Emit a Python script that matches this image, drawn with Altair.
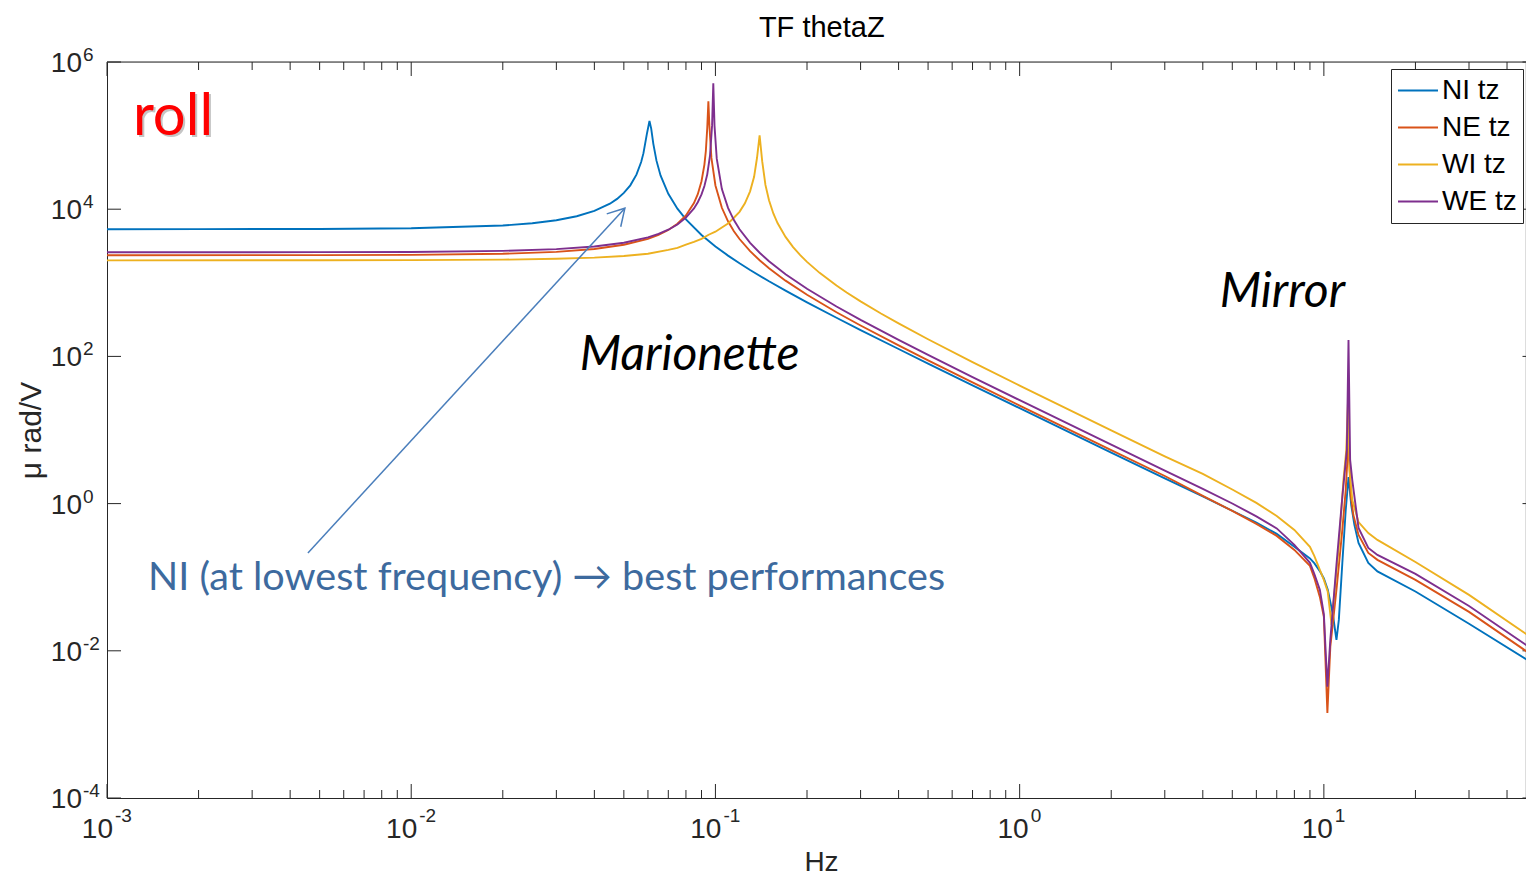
import altair as alt
import pandas as pd

# ---- transfer-function magnitudes (Hz, micro-rad/V) -------------------------
series_names = ["NI tz", "NE tz", "WI tz", "WE tz"]
series_colors = ["#0072BD", "#D95319", "#EDB120", "#7E2F8E"]

ni_f = [0.001, 0.002, 0.005, 0.01, 0.02, 0.025, 0.03, 0.035, 0.04, 0.045, 0.0475, 0.05,
        0.0525, 0.055, 0.057, 0.058, 0.0595, 0.0607, 0.0615, 0.0625, 0.064, 0.066, 0.07,
        0.075, 0.08, 0.09, 0.1, 0.11, 0.12, 0.13, 0.15, 0.17, 0.2, 0.25, 0.3, 0.4, 0.5,
        0.7, 1, 2, 3, 4, 5, 6, 7, 8, 9, 9.3, 9.7, 10.0, 10.3, 10.7, 11.0, 11.2, 11.5,
        11.8, 12.05, 12.3, 12.6, 13, 14, 15, 20, 30, 46.6, 50]
ni_v = [5350, 5356, 5387, 5499, 6002, 6443, 7080, 8015, 9457, 11880, 13800, 16640,
        21100, 29480, 43750, 57780, 104900, 158000, 124400, 77200, 45690, 28790, 16210,
        10160, 7259, 4466, 3121, 2342, 1840, 1491, 1048, 782, 543, 335, 228, 126, 80.0,
        40.5, 19.8, 4.93, 2.2, 1.25, 0.80, 0.55, 0.388, 0.26, 0.18, 0.155, 0.121,
        0.096, 0.0676, 0.0316, 0.0141, 0.0263, 0.156, 0.818, 2.30, 0.958, 0.513, 0.292,
        0.156, 0.12, 0.0639, 0.0233, 0.00755, 0.00625]

ne_f = [0.001, 0.005, 0.01, 0.02, 0.03, 0.04, 0.05, 0.06, 0.065, 0.07, 0.075, 0.08,
        0.085, 0.0875, 0.09, 0.092, 0.093, 0.094, 0.0948, 0.0955, 0.097, 0.1, 0.105,
        0.11, 0.115, 0.12, 0.13, 0.14, 0.15, 0.17, 0.2, 0.25, 0.3, 0.4, 0.5, 0.7, 1, 2,
        3, 4, 5, 6, 7, 8, 9, 9.3, 9.7, 10.0, 10.27, 10.5, 11.0, 11.5, 11.8, 12.05,
        12.25, 12.5, 13, 14, 15, 20, 30, 46.6, 50]
ne_v = [2370, 2377, 2397, 2480, 2634, 2883, 3284, 3954, 4473, 5211, 6335, 8235, 12090,
        16000, 24010, 40380, 61700, 127300, 293000, 140200, 49790, 21010, 10450, 6844,
        5025, 3935, 2692, 2007, 1576, 1070, 687, 398, 263, 141, 88.4, 44.3, 21.5, 5.34,
        2.37, 1.27, 0.796, 0.531, 0.364, 0.235, 0.1425, 0.098, 0.054, 0.029, 0.00143,
        0.0113, 0.0676, 0.439, 1.53, 7.33, 1.31, 0.70, 0.375, 0.214, 0.172, 0.092,
        0.0338, 0.00968, 0.00803]

wi_f = [0.001, 0.005, 0.01, 0.02, 0.03, 0.04, 0.05, 0.06, 0.07, 0.075, 0.08, 0.085,
        0.09, 0.095, 0.1, 0.105, 0.11, 0.115, 0.12, 0.125, 0.13, 0.134, 0.137, 0.1397,
        0.1425, 0.146, 0.15, 0.155, 0.16, 0.17, 0.18, 0.19, 0.2, 0.22, 0.25, 0.27, 0.3,
        0.35, 0.4, 0.5, 0.7, 1, 2, 3, 4, 5, 6, 7, 8, 9, 9.3, 9.7, 10.0, 10.3, 10.6,
        10.8, 11.2, 11.6, 11.85, 12.0, 12.15, 12.4, 13, 14, 15, 20, 30, 46.6, 50]
wi_v = [2020, 2023, 2030, 2062, 2118, 2200, 2317, 2477, 2800, 2980, 3300, 3600, 3950,
        4500, 4950, 5650, 6400, 7650, 9200, 12000, 17500, 27500, 50000, 101000, 44600,
        21370, 13210, 8745, 6479, 4201, 3060, 2377, 1925, 1365, 917, 738, 559, 383, 281,
        171, 83.8, 40.2, 9.9, 4.39, 2.53, 1.556, 1.021, 0.679, 0.439, 0.258, 0.195,
        0.126, 0.092, 0.0633, 0.0225, 0.0537, 0.258, 2.1, 5.33, 23.3, 2.86, 1.12, 0.562,
        0.398, 0.321, 0.161, 0.0575, 0.0165, 0.01365]

we_f = [0.001, 0.005, 0.01, 0.02, 0.03, 0.04, 0.05, 0.06, 0.065, 0.07, 0.075, 0.08,
        0.085, 0.0875, 0.09, 0.092, 0.094, 0.096, 0.0975, 0.0984, 0.0993, 0.101, 0.105,
        0.11, 0.115, 0.12, 0.13, 0.14, 0.15, 0.17, 0.2, 0.25, 0.3, 0.4, 0.5, 0.7, 1, 2,
        3, 4, 5, 6, 7, 8, 9, 9.3, 9.7, 10.0, 10.27, 10.5, 11.0, 11.5, 11.9, 12.05, 12.2,
        12.4, 13, 14, 15, 20, 30, 46.6, 50]
we_v = [2600, 2607, 2627, 2712, 2866, 3115, 3505, 4139, 4613, 5264, 6204, 7670, 10240,
        12420, 15900, 20670, 29750, 53940, 137600, 514000, 136700, 48600, 18750, 10410,
        7106, 5337, 3488, 2538, 1964, 1310, 830, 477, 313, 167.5, 104.8, 52.4, 25.4,
        6.31, 2.80, 1.58, 1.004, 0.67, 0.46, 0.275, 0.157, 0.111, 0.0673, 0.0315,
        0.00325, 0.0141, 0.147, 1.23, 5.33, 166.7, 3.92, 2.09, 0.468, 0.25, 0.201, 0.111,
        0.0407, 0.01175, 0.0094]

# ---- axis ticks and labels ------------------------------------------------------
x_major = [0.001, 0.01, 0.1, 1, 10]
x_minor = [0.002, 0.003, 0.004, 0.005, 0.006, 0.007, 0.008, 0.009,
           0.02, 0.03, 0.04, 0.05, 0.06, 0.07, 0.08, 0.09,
           0.2, 0.3, 0.4, 0.5, 0.6, 0.7, 0.8, 0.9,
           2, 3, 4, 5, 6, 7, 8, 9, 20, 30, 40]
y_major = [1e-4, 1e-2, 1, 1e2, 1e4, 1e6]
x_label_exp = ["-3", "-2", "-1", "0", "1"]
y_label_exp = ["-4", "-2", "0", "2", "4", "6"]

# ---- annotations ------------------------------------------------------------------
plot_title = "TF thetaZ"
roll_note = {"f": [0.001217], "v": [1.01e5], "t": ["roll"]}
marionette_note = {"f": [0.03584], "v": [65.3], "t": ["Marionette"]}
mirror_note = {"f": [4.545], "v": [467.7], "t": ["Mirror"]}
ni_note = {"f": [0.001364], "v": [0.0673],
           "t": ["NI (at lowest frequency) \u2192 best performances"]}
arrow = {"f1": [0.004576], "v1": [0.2138], "f2": [0.05039], "v2": [10323]}

# ---- layout -----------------------------------------------------------------------
PLOT_W = 1418
PLOT_H = 736
X_SPAN = 1429.5          # pixel length of the 1e-3 .. 50 Hz axis
AX = "#262626"
SANS = "Liberation Sans"
NOTE_FONT = "Lato"

x_scale = alt.Scale(type="log", domain=[0.001, 50], range=[0, X_SPAN], nice=False)
y_scale = alt.Scale(type="log", domain=[1e-4, 1e6], nice=False)

x_axis = alt.Axis(title="Hz", labels=False, ticks=False, grid=False, domain=True,
                  domainColor=AX, domainWidth=1, titleFont=SANS, titleFontSize=28,
                  titleFontWeight="normal", titleColor=AX, titleBaseline="alphabetic",
                  titlePadding=72, titleX=714)
y_axis = alt.Axis(title="\u03bc rad/V", labels=False, ticks=False, grid=False,
                  domain=True, domainColor=AX, domainWidth=1, titleFont=SANS,
                  titleFontSize=30, titleFontWeight="normal", titleColor=AX,
                  titleBaseline="alphabetic", titlePadding=67)


def xf(field="f"):
    return alt.X(f"{field}:Q", scale=x_scale, axis=x_axis)


def yf(field="v"):
    return alt.Y(f"{field}:Q", scale=y_scale, axis=y_axis)


# legend box sits in the top-right corner and runs on past the right edge
legend = alt.Legend(title=None, orient="none", legendX=1284, legendY=7,
                    direction="vertical", fillColor="white", strokeColor=AX,
                    padding=6, symbolType="stroke", symbolSize=1600,
                    symbolStrokeWidth=2, labelFont=SANS, labelFontSize=28,
                    labelColor="black", labelOffset=3, rowPadding=6, clipHeight=31,
                    offset=0, labelLimit=400,
                    labelExpr="datum.label + '\u00a0\u00a0\u00a0'")
color = alt.Color("series:N", scale=alt.Scale(domain=series_names, range=series_colors),
                  legend=legend)

layers = []

# frame: top edge and right edge (left and bottom come from the axis domains)
layers.append(alt.Chart(pd.DataFrame({"d": [0]})).mark_rule(color=AX, strokeWidth=1)
              .encode(x=alt.value(0), x2=alt.value(X_SPAN), y=alt.value(0)))
layers.append(alt.Chart(pd.DataFrame({"d": [0]})).mark_rule(color=AX, strokeWidth=1)
              .encode(x=alt.value(X_SPAN), y=alt.value(0), y2=alt.value(PLOT_H)))

# inward ticks on all four sides
for vals, length in ((x_major, 14), (x_minor, 8)):
    d = pd.DataFrame({"f": vals})
    layers.append(alt.Chart(d).mark_rule(color=AX, strokeWidth=1).encode(
        x=xf(), y=alt.value(PLOT_H), y2=alt.value(PLOT_H - length)))
    layers.append(alt.Chart(d).mark_rule(color=AX, strokeWidth=1).encode(
        x=xf(), y=alt.value(0), y2=alt.value(length)))
dy_ticks = pd.DataFrame({"v": y_major})
layers.append(alt.Chart(dy_ticks).mark_rule(color=AX, strokeWidth=1).encode(
    y=yf(), x=alt.value(0), x2=alt.value(14)))
layers.append(alt.Chart(dy_ticks).mark_rule(color=AX, strokeWidth=1).encode(
    y=yf(), x=alt.value(X_SPAN), x2=alt.value(X_SPAN - 14)))

# tick labels written as 10 with a raised exponent
xlab = pd.DataFrame({"f": x_major, "base": ["10"] * len(x_major), "exp": x_label_exp})
for sub, dx_base, dx_exp in ((xlab[xlab["f"] < 1], 6, 8), (xlab[xlab["f"] >= 1], 9, 11)):
    layers.append(alt.Chart(sub).mark_text(
        align="right", baseline="alphabetic", dx=dx_base, dy=40, font=SANS,
        fontSize=28, color=AX).encode(x=xf(), y=alt.value(PLOT_H), text="base:N"))
    layers.append(alt.Chart(sub).mark_text(
        align="left", baseline="alphabetic", dx=dx_exp, dy=24, font=SANS,
        fontSize=19, color=AX).encode(x=xf(), y=alt.value(PLOT_H), text="exp:N"))

ylab = pd.DataFrame({"v": y_major, "base": ["10"] * len(y_major), "exp": y_label_exp})
layers.append(alt.Chart(ylab).mark_text(
    align="right", baseline="alphabetic", dx=-25, dy=10, font=SANS, fontSize=28,
    color=AX).encode(x=alt.value(0), y=yf(), text="base:N"))
layers.append(alt.Chart(ylab).mark_text(
    align="left", baseline="alphabetic", dx=-24, dy=-1, font=SANS, fontSize=19,
    color=AX).encode(x=alt.value(0), y=yf(), text="exp:N"))

# the four transfer functions, drawn in legend order
for name, fs, vs in zip(series_names, [ni_f, ne_f, wi_f, we_f], [ni_v, ne_v, wi_v, we_v]):
    assert len(fs) == len(vs), name
    d = pd.DataFrame({"f": fs, "v": vs, "series": name})
    layers.append(alt.Chart(d).mark_line(strokeWidth=1.9).encode(
        x=xf(), y=yf(), color=color))

# plot title centred over the full axis span
layers.append(alt.Chart(pd.DataFrame({"t": [plot_title]})).mark_text(
    align="center", baseline="alphabetic", font=SANS, fontSize=29,
    color="black").encode(x=alt.value(X_SPAN / 2), y=alt.value(-25), text="t:N"))

# annotations
layers.append(alt.Chart(pd.DataFrame(roll_note)).mark_text(
    align="left", baseline="alphabetic", font=NOTE_FONT, fontSize=58, color="#7f7f7f",
    opacity=0.45, dx=2, dy=2).encode(x=xf(), y=yf(), text="t:N"))
layers.append(alt.Chart(pd.DataFrame(roll_note)).mark_text(
    align="left", baseline="alphabetic", font=NOTE_FONT, fontSize=58,
    color="#FF0000").encode(x=xf(), y=yf(), text="t:N"))
for note in (marionette_note, mirror_note):
    layers.append(alt.Chart(pd.DataFrame(note)).mark_text(
        align="left", baseline="alphabetic", font=NOTE_FONT, fontSize=48,
        fontStyle="italic", color="black").encode(x=xf(), y=yf(), text="t:N"))
layers.append(alt.Chart(pd.DataFrame(ni_note)).mark_text(
    align="left", baseline="alphabetic", font=NOTE_FONT, fontSize=39.6,
    color="#3D6A9E").encode(x=xf(), y=yf(), text="t:N"))

arrow_df = pd.DataFrame(arrow)
layers.append(alt.Chart(arrow_df).mark_rule(color="#4A7EBB", strokeWidth=1.5).encode(
    x=xf("f1"), x2="f2:Q", y=yf("v1"), y2="v2:Q"))
layers.append(alt.Chart(arrow_df).mark_point(
    shape="M -0.5 0.866 L 0 0 L 0.5 0.866", filled=False, size=1444, angle=42.6,
    strokeWidth=1.5, color="#4A7EBB", opacity=1).encode(x=xf("f2"), y=yf("v2")))

chart = alt.layer(*layers).properties(
    width=PLOT_W,
    height=PLOT_H,
    autosize=alt.AutoSizeParams(type="none"),
    padding={"left": 107, "top": 62, "right": 1, "bottom": 77},
).configure_view(stroke="transparent").configure(background="white")

chart.save("out.html", embed_options={"renderer": "svg", "actions": False})
